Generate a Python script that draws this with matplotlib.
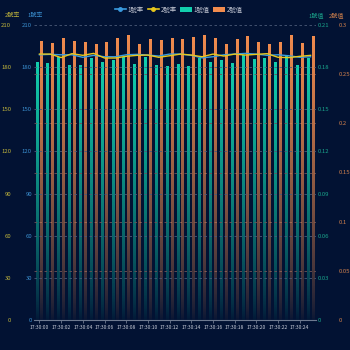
import numpy as np
import matplotlib
matplotlib.use("Agg")
import matplotlib.pyplot as plt
from matplotlib.colors import to_rgb
from matplotlib.lines import Line2D
from matplotlib.patches import Patch

plt.rcParams['font.family'] = ['Noto Sans CJK TC', 'DejaVu Sans']

# --- data ---
times = ["17:30:%02d" % s for s in range(26)]
rate1 = [188.8, 189.1, 188.8, 188.8, 187.0, 188.4, 187.4, 187.4, 188.8, 189.1, 188.6, 187.9, 189.3,
         189.3, 188.4, 186.6, 187.4, 188.8, 189.3, 189.8, 189.3, 188.4, 188.8, 188.1, 187.0, 187.4]
rate2 = [189.3, 189.3, 186.8, 189.6, 188.4, 189.8, 186.5, 186.5, 187.7, 188.4, 188.6, 187.0, 188.1,
         189.3, 188.6, 187.4, 189.3, 187.9, 189.3, 188.6, 189.1, 189.6, 187.0, 186.8, 187.7, 188.4]
val1 = [0.1834, 0.1825, 0.1867, 0.1810, 0.1813, 0.1863, 0.1834, 0.1844, 0.1867, 0.1817, 0.1870, 0.1813, 0.1808,
        0.1817, 0.1808, 0.1865, 0.1834, 0.1844, 0.1825, 0.1880, 0.1851, 0.1860, 0.1832, 0.1874, 0.1815, 0.1863]
val2 = [0.283, 0.281, 0.286, 0.283, 0.282, 0.280, 0.282, 0.286, 0.289, 0.280, 0.285, 0.284, 0.286,
        0.285, 0.287, 0.289, 0.286, 0.280, 0.285, 0.288, 0.282, 0.280, 0.282, 0.289, 0.281, 0.288]

BG = "#021233"
BLUE = "#3a9be0"
YELLOW = "#e8c81c"
TEAL = "#12cfae"
ORANGE = "#f28c4e"

fig = plt.figure(figsize=(3.5, 3.5), dpi=100, facecolor=BG)
ax = fig.add_axes([34 / 350, 30 / 350, 282 / 350, 295 / 350])
ax.set_facecolor(BG)
ax_o = ax.twinx()
ax_b = ax.twinx()
ax_y = ax.twinx()

x = np.arange(len(times))
w = 0.26


def grad_bars(a, xs, hs, color):
    # top colour fading out toward the bottom
    rgb = to_rgb(color)
    n = 256
    img = np.zeros((n, 1, 4))
    img[:, 0, :3] = rgb
    img[:, 0, 3] = np.linspace(1, 0, n) ** 0.75 * 0.97 + 0.03
    for xi, h in zip(xs, hs):
        a.imshow(img, extent=[xi - w / 2, xi + w / 2, 0, h], aspect='auto',
                 interpolation='bilinear', zorder=2)


grad_bars(ax, x - 0.22, val1, TEAL)
grad_bars(ax_o, x + 0.22, val2, ORANGE)

ax_b.plot(x, rate1, color=BLUE, lw=1.0, zorder=5)
ax_y.plot(x, rate2, color=YELLOW, lw=1.0, zorder=5)

for a in (ax, ax_o, ax_b, ax_y):
    a.set_xlim(-0.5, len(times) - 0.5)
    for s in a.spines.values():
        s.set_visible(False)

ax.set_ylim(0, 0.21)
ax_o.set_ylim(0, 0.3)
ax_b.set_ylim(0, 210)
ax_y.set_ylim(0, 210)

# grid lines
for v in np.arange(30, 211, 30):
    ax_b.axhline(v, color="#4c5a78", lw=0.6, ls=(0, (3, 3)), zorder=1)
for v in np.arange(0.05, 0.3, 0.05):
    ax_o.axhline(v, color="#6e5358", lw=0.6, ls=(0, (3, 3)), zorder=1)

# y axes
ax.yaxis.tick_right()
ax.set_yticks(np.arange(0, 0.211, 0.03))
ax.set_yticklabels(["0"] + ["%.2f" % v for v in np.arange(0.03, 0.211, 0.03)])
ax.tick_params(axis='y', length=0, pad=1.5, labelsize=4.3, labelcolor="#1aa58c")

ax_o.spines['right'].set_position(('outward', 15))
ax_o.set_yticks(np.arange(0, 0.31, 0.05))
ax_o.set_yticklabels(["0", "0.05", "0.1", "0.15", "0.2", "0.25", "0.3"])
ax_o.tick_params(axis='y', length=0, pad=1.5, labelsize=4.3, labelcolor="#d0804c")

ax_b.yaxis.tick_left()
ax_b.set_yticks(np.arange(0, 211, 30))
ax_b.tick_params(axis='y', length=0, pad=1.5, labelsize=4.3, labelcolor="#3a8fd0")

ax_y.yaxis.tick_left()
ax_y.spines['left'].set_position(('outward', 15))
ax_y.set_yticks(np.arange(0, 211, 30))
ax_y.tick_params(axis='y', length=0, pad=1.5, labelsize=4.3, labelcolor="#c0b43c")

# x axis
ax.spines['bottom'].set_visible(True)
ax.spines['bottom'].set_color("#6e7a90")
ax.spines['bottom'].set_linewidth(0.8)
ax.set_xticks(x[::2])
ax.set_xticklabels(times[::2])
ax.tick_params(axis='x', length=2, width=0.6, color="#6e7a90", pad=1.5, labelsize=3.6, labelcolor="#c8ccd8")
for a in (ax_o, ax_b, ax_y):
    a.tick_params(axis='x', which='both', bottom=False, labelbottom=False)

# axis names
fig.text(12 / 350, 1 - 15 / 350, "2號率", color="#c0b43c", fontsize=4.3, ha='center', va='center')
fig.text(35 / 350, 1 - 15 / 350, "1號率", color="#3a8fd0", fontsize=4.3, ha='center', va='center')
fig.text(316 / 350, 1 - 15 / 350, "1號值", color="#1aa58c", fontsize=4.3, ha='center', va='center')
fig.text(336 / 350, 1 - 15 / 350, "2號值", color="#d0804c", fontsize=4.3, ha='center', va='center')

# legend
handles = [
    Line2D([], [], color=BLUE, lw=1.2, marker='o', markersize=2.5),
    Line2D([], [], color=YELLOW, lw=1.2, marker='o', markersize=2.5),
    Patch(facecolor=TEAL),
    Patch(facecolor=ORANGE),
]
leg = fig.legend(handles, ["1號率", "2號率", "1號值", "2號值"], loc='upper center',
                 bbox_to_anchor=(0.51, 1.0), ncol=4, frameon=False, fontsize=4.5,
                 handlelength=1.8, handleheight=0.8, columnspacing=0.6, handletextpad=0.3)
for t in leg.get_texts():
    t.set_color("#c8ccd8")

fig.savefig("out.png", dpi=100, facecolor=BG)
